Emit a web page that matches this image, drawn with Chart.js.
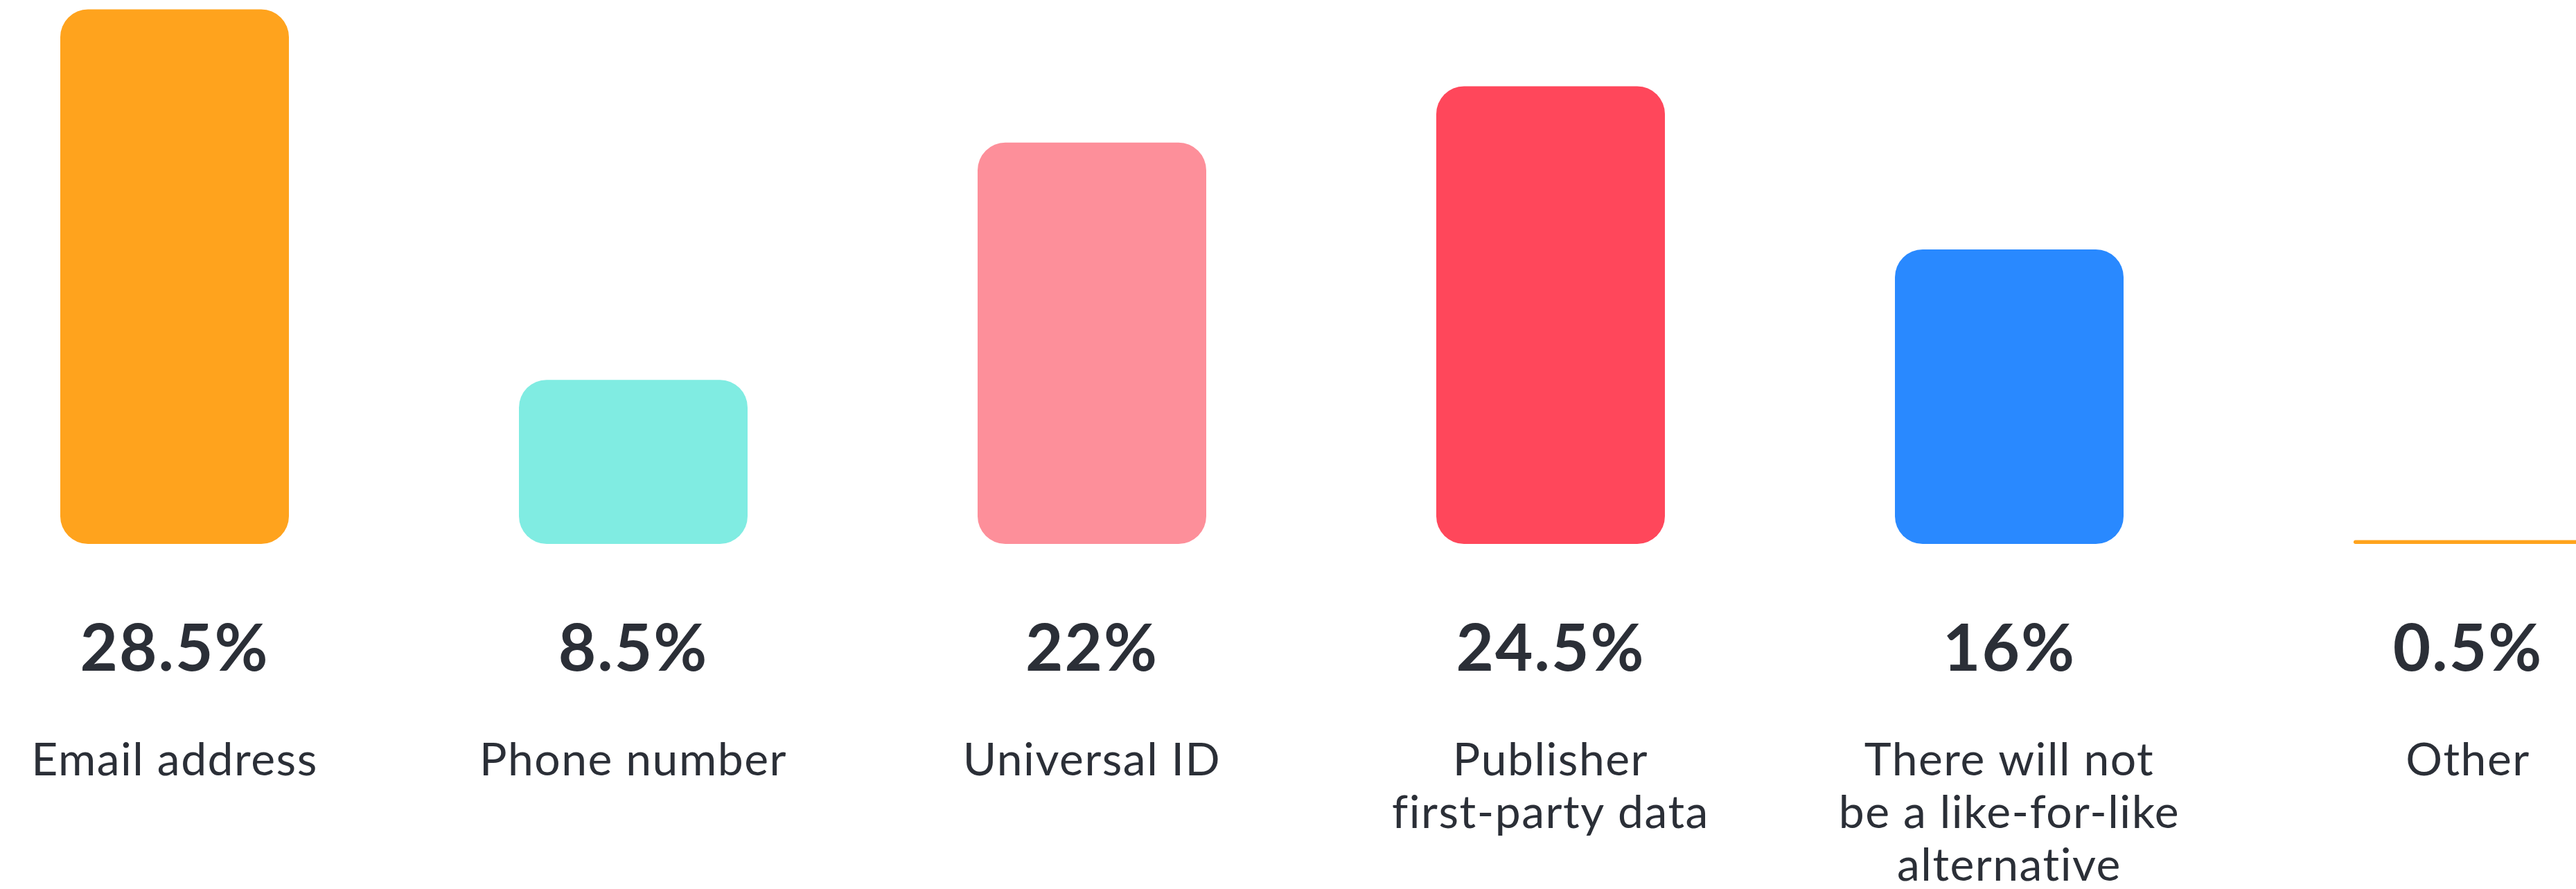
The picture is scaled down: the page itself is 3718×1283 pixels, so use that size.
<!DOCTYPE html>
<html>
<head>
<meta charset="utf-8">
<script src="https://cdn.jsdelivr.net/npm/chart.js@4.4.1/dist/chart.umd.min.js"></script>
<style>
html, body { margin: 0; padding: 0; background: #fff; overflow: hidden; width: 3718px; height: 1283px; }
#mycanvas { position: absolute; left: -79px; top: 0; }
</style>
</head>
<body>
<canvas id="mycanvas" width="3972" height="1283"></canvas>
<script>
// categories (multi-line labels as arrays)
var categories = [
	['Email address'],
	['Phone number'],
	['Universal ID'],
	['Publisher', 'first-party data'],
	['There will not', 'be a like-for-like', 'alternative'],
	['Other']
];
// bar heights
var shares = [28.5, 8.75, 21.4, 24.4, 15.7, 0.2];
// printed value labels
var shareLabels = ['28.5%', '8.5%', '22%', '24.5%', '16%', '0.5%'];
var barColors = ['#FFA31D', '#80ECE2', '#FD8F9A', '#FF475B', '#2989FF', '#FFA31D'];

var textColor = '#2b2f37';

var labelPlugin = {
	id: 'labelPlugin',
	afterDatasetsDraw: function(chart){
		var ctx = chart.ctx;
		var x = chart.scales.x;
		var bottom = chart.chartArea.bottom;
		ctx.save();
		ctx.fillStyle = textColor;
		ctx.textAlign = 'center';
		ctx.textBaseline = 'alphabetic';
		for (var i = 0; i < categories.length; i++) {
			var cx = x.getPixelForValue(i);
			ctx.font = 'bold 94px Lato';
			ctx.letterSpacing = '2px';
			ctx.fillText(shareLabels[i], cx, bottom + 183);
			ctx.font = '66px Lato';
			ctx.letterSpacing = '1.5px';
			for (var j = 0; j < categories[i].length; j++) {
				ctx.fillText(categories[i][j], cx, bottom + 334 + j * 76);
			}
		}
		ctx.restore();
	}
};

function draw(){
	var chartdata = {
		labels: categories,
		datasets: [{
			label: 'Share',
			data: shares,
			backgroundColor: barColors,
			borderWidth: 0,
			borderRadius: 40,
			borderSkipped: false,
			barPercentage: 0.4985,
			categoryPercentage: 1
		}]
	};
	new Chart(document.getElementById('mycanvas'), {
		type: 'bar',
		data: chartdata,
		options: {
			responsive: false,
			animation: false,
			layout: { padding: { top: 0, bottom: 498, left: 0, right: 0 } },
			plugins: { legend: { display: false }, tooltip: { enabled: false } },
			scales: {
				x: { display: false },
				y: { display: false, min: 0, max: 29 }
			}
		},
		plugins: [labelPlugin]
	});
}

if (document.fonts && document.fonts.load) {
	Promise.all([document.fonts.load('bold 94px Lato'), document.fonts.load('66px Lato')]).then(draw, draw);
} else {
	draw();
}
</script>
</body>
</html>
